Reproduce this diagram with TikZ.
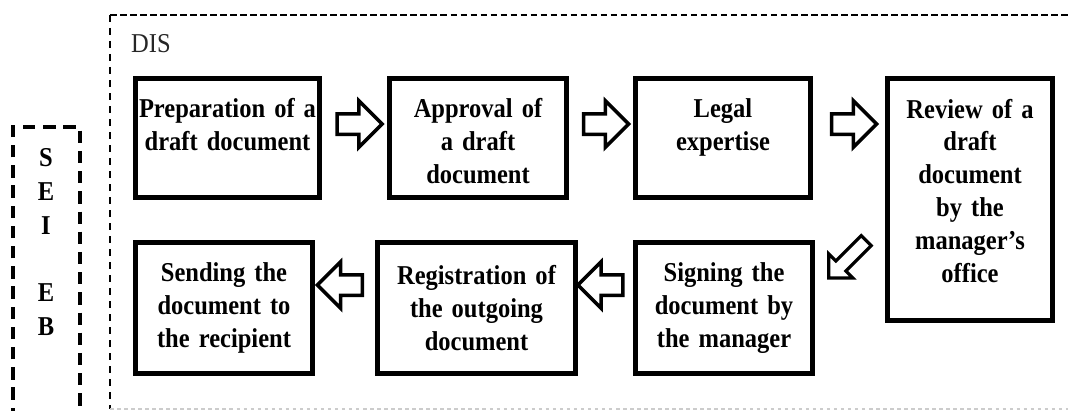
\documentclass[tikz,border=0pt]{standalone}
\usepackage{fontspec}
\setmainfont{Liberation Serif}[FakeStretch=0.9, WordSpace=0.85]
\usetikzlibrary{shapes.arrows,calc}

\begin{document}
\begin{tikzpicture}
                \tikzset{x=0.02cm, y=-0.02cm}
                \tikzstyle{stage}=[rectangle, draw, line width=2.8pt, align=center, inner sep=0pt, font=\bfseries\fontsize{15.5}{18.7}\selectfont]
                \tikzstyle{upperrow}=[text height=0.79cm, text depth=1.59cm]
                \tikzstyle{lowerrow}=[minimum height=2.62cm]
                \tikzstyle{blockarrow}=[single arrow, draw, line width=2pt, inner sep=0.17cm, minimum height=0.9cm, single arrow head extend=0.26cm]
                \tikzstyle{diagarrow}=[single arrow, draw, line width=1.8pt, inner sep=0.11cm, minimum height=1.06cm, single arrow head extend=0.2cm, rotate=225]

                \useasboundingbox (0,0) rectangle (1068,411);
                \clip (0,0) rectangle (1068,411);

                \draw [line width=1.3pt, dash pattern=on 3.7pt off 2pt] (110,15) -- (1080,15);
                \draw [line width=0.8pt, dash pattern=on 4pt off 3.4pt] (110,15) -- (110,409);
                \draw [gray!40, line width=0.6pt, dash pattern=on 2pt off 2pt] (110,409) -- (1080,409);
                \draw [line width=1.9pt, dash pattern=on 7pt off 4.5pt] (13,420) -- (13,127) -- (80,127) -- (80,420);

                \draw (125, 44)     node[anchor=west, text=black!85, font=\fontsize{15.5}{16}\selectfont] (dis) {DIS};
                \draw (46, 242)     node[align=center, font=\bfseries\fontsize{15.5}{19.3}\selectfont] (seieb) {S\\E\\I\\[19.3pt]E\\B};

                \draw (227.5, 138)  node[stage, upperrow, text width=3.68cm] (prep)   {Preparation of a\\draft document};
                \draw (478, 138)    node[stage, upperrow, text width=3.54cm] (appr)   {Approval of\\a draft\\document};
                \draw (723, 138)    node[stage, upperrow, text width=3.5cm]  (legal)  {Legal\\expertise};
                \draw (970, 199.5)  node[stage, text width=3.3cm, text height=0.79cm, text depth=4.05cm] (review) {Review of a\\draft\\document\\by the\\manager’s\\office};
                \draw (724, 308)    node[stage, lowerrow, text width=3.54cm] (sign)   {Signing the\\document by\\the manager};
                \draw (476.5, 308)  node[stage, lowerrow, text width=3.96cm] (regi)   {Registration of\\the outgoing\\document};
                \draw (224, 308)    node[stage, lowerrow, text width=3.54cm] (send)   {Sending the\\document to\\the recipient};

                \draw ($(prep.north east)!0.5!(appr.north west)+(0,48)$)    node[blockarrow] (a1) {};
                \draw ($(appr.north east)!0.5!(legal.north west)+(0,48)$)   node[blockarrow] (a2) {};
                \draw ($(legal.north east)!0.5!(review.north west)+(0,48)$) node[blockarrow] (a3) {};
                \draw ($(review.west)!0.5!(sign.north east)+(0,37)$)        node[diagarrow] (a4) {};
                \draw ($(sign.north west)!0.5!(regi.north east)+(0,45)$)    node[blockarrow, rotate=180] (a5) {};
                \draw ($(regi.north west)!0.5!(send.north east)+(0,45)$)    node[blockarrow, rotate=180] (a6) {};
            \end{tikzpicture}
\end{document}
